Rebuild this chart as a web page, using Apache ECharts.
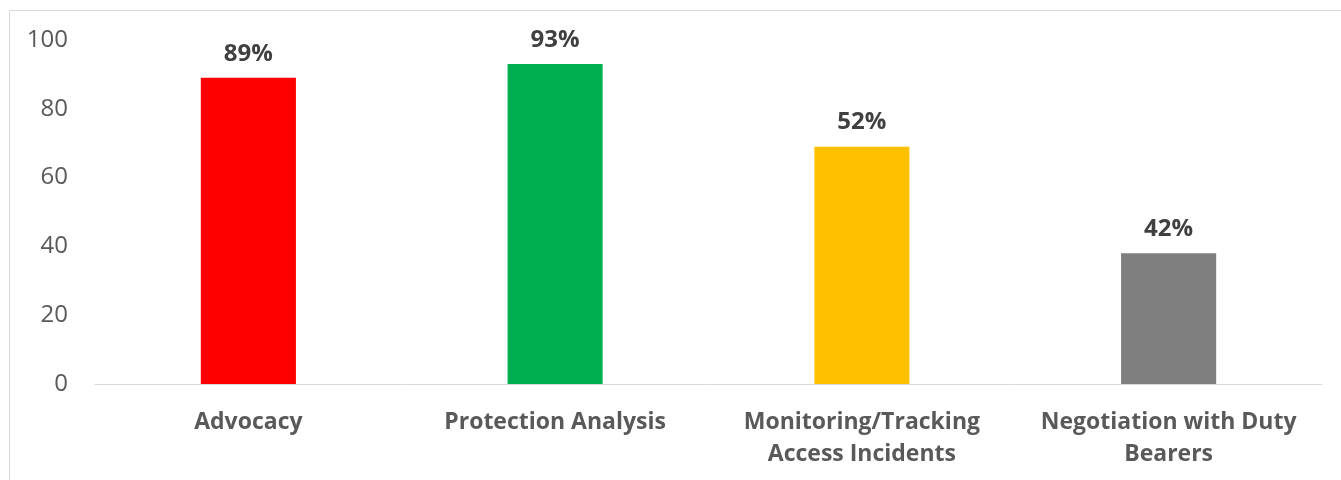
<!DOCTYPE html>
<html>
<head>
<meta charset="utf-8">
<script src="https://cdn.jsdelivr.net/npm/echarts@6/dist/echarts.min.js"></script>
<style>
  html, body { margin: 0; padding: 0; background: #fff; }
  #chart { width: 1341px; height: 480px; }
</style>
</head>
<body>
<div id="chart"></div>
<script>
var categories = ['Advocacy', 'Protection Analysis', 'Monitoring/Tracking\nAccess Incidents', 'Negotiation with Duty\nBearers'];
var values = [89, 93, 69, 38];
var valueLabels = ['89%', '93%', '52%', '42%'];
var barColors = ['#ff0000', '#00b050', '#ffc000', '#7f7f7f'];
var yTicks = [0, 20, 40, 60, 80, 100];

var myChart = echarts.init(document.getElementById('chart'));
var option = {
    backgroundColor: '#fff',
    textStyle: { fontFamily: 'Open Sans' },
    graphic: [{
        type: 'rect',
        shape: { x: 9.5, y: 10.5, width: 1400, height: 500 },
        style: { fill: 'none', stroke: '#d9d9d9', lineWidth: 1 },
        silent: true
    }],
    grid: { left: 95, right: 19, top: 40, bottom: 96 },
    xAxis: {
        type: 'category',
        data: categories,
        axisLine: { lineStyle: { color: '#d9d9d9', width: 1 } },
        axisTick: { show: false },
        axisLabel: {
            color: '#595959',
            fontSize: 23,
            fontWeight: 'bold',
            fontFamily: 'Open Sans',
            lineHeight: 32,
            margin: 22,
            interval: 0
        }
    },
    yAxis: {
        type: 'value',
        min: yTicks[0],
        max: yTicks[yTicks.length - 1],
        interval: 20,
        splitLine: { show: false },
        axisLine: { show: false },
        axisTick: { show: false },
        axisLabel: {
            color: '#595959',
            fontSize: 24,
            fontFamily: 'Open Sans',
            margin: 27
        }
    },
    series: [{
        type: 'bar',
        barWidth: '31%',
        data: values.map(function (v, i) {
            return { value: v, itemStyle: { color: barColors[i] } };
        }),
        label: {
            show: true,
            position: 'top',
            distance: 12,
            color: '#404040',
            fontSize: 24,
            fontWeight: 'bold',
            fontFamily: 'Open Sans',
            formatter: function (p) { return valueLabels[p.dataIndex]; }
        }
    }]
};
myChart.setOption(option);
</script>
</body>
</html>
